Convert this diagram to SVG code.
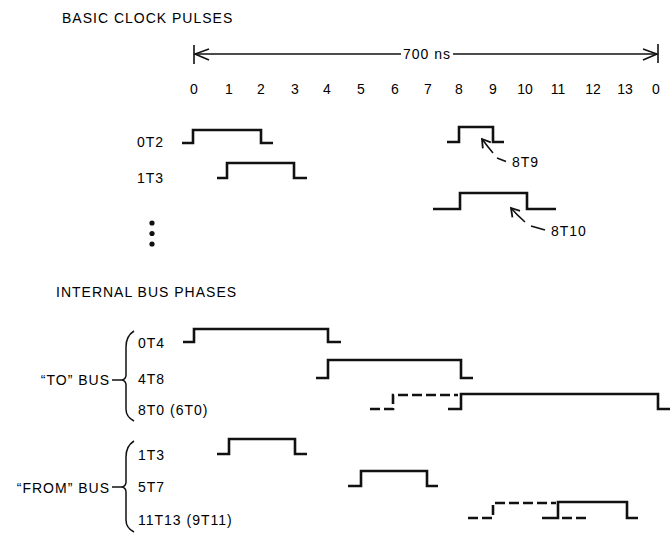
<svg xmlns="http://www.w3.org/2000/svg" width="671" height="534" viewBox="0 0 671 534">
<defs>
<style>
text{font-family:"Liberation Sans",Arial,sans-serif;font-size:14px;letter-spacing:1px;fill:#000}
.tk{text-anchor:middle;letter-spacing:0}
.w{fill:none;stroke:#111;stroke-width:2.6;stroke-linejoin:miter}
.d{fill:none;stroke:#111;stroke-width:2.6;stroke-dasharray:10 4}
.thin{fill:none;stroke:#111;stroke-width:1.6}
.br{fill:none;stroke:#111;stroke-width:1.5}
</style>
<marker id="open" markerWidth="12" markerHeight="12" refX="10" refY="6" orient="auto" markerUnits="userSpaceOnUse">
<path d="M2,1 L10,6 L2,11" fill="none" stroke="#111" stroke-width="1.8"/>
</marker>
</defs>
<rect width="671" height="534" fill="#fff"/>

<g id="title-clock"><text x="62" y="23">BASIC CLOCK PULSES</text></g>

<g id="dimension">
<line class="thin" x1="194" y1="45" x2="194" y2="64"/>
<line class="thin" x1="658" y1="44" x2="658" y2="63"/>
<line class="thin" x1="195" y1="54" x2="401" y2="54"/>
<line class="thin" x1="453" y1="54" x2="657" y2="54"/>
<path class="thin" d="M209,49 L195,54 L209,60"/>
<path class="thin" d="M643,49 L657,54 L643,60"/>
<text x="427" y="59" style="text-anchor:middle">700 ns</text>
</g>

<g id="ticks">
<text class="tk" x="194" y="94">0</text>
<text class="tk" x="229" y="94">1</text>
<text class="tk" x="261" y="94">2</text>
<text class="tk" x="295" y="94">3</text>
<text class="tk" x="327" y="94">4</text>
<text class="tk" x="361" y="94">5</text>
<text class="tk" x="395" y="94">6</text>
<text class="tk" x="428" y="94">7</text>
<text class="tk" x="459" y="94">8</text>
<text class="tk" x="493" y="94">9</text>
<text class="tk" x="525" y="94">10</text>
<text class="tk" x="558" y="94">11</text>
<text class="tk" x="593" y="94">12</text>
<text class="tk" x="625" y="94">13</text>
<text class="tk" x="656" y="94">0</text>
</g>

<g id="clk-0T2">
<text x="137" y="147">0T2</text>
<path class="w" d="M182,143 H193 V130 H261 V143 H273"/>
</g>
<g id="clk-1T3">
<text x="137" y="183">1T3</text>
<path class="w" d="M217,178 H227 V163 H294 V178 H307"/>
</g>
<g id="ellipsis">
<circle cx="152" cy="223" r="2.6" fill="#111"/>
<circle cx="152" cy="233.5" r="2.6" fill="#111"/>
<circle cx="152" cy="244" r="2.6" fill="#111"/>
</g>
<g id="clk-8T9">
<path class="w" d="M447,142 H459 V127 H493 V142 H504"/>
<text x="512" y="167">8T9</text>
</g>
<g id="clk-8T10">
<path class="w" d="M433,209 H460 V193 H527 V209 H556"/>
<text x="551" y="236">8T10</text>
</g>

<g id="title-bus"><text x="56" y="297">INTERNAL BUS PHASES</text></g>

<g id="to-bus">
<text x="110" y="385" style="text-anchor:end">“TO” BUS</text>
<path class="br" d="M112,380 H122"/>
<path class="br" d="M134,331 Q126,336 126,347 V375 Q126,379 122,380 Q126,381 126,385 V409 Q126,417 134,421"/>
</g>
<g id="bus-0T4">
<text x="138" y="348">0T4</text>
<path class="w" d="M183,342 H194 V329 H328 V342 H341"/>
</g>
<g id="bus-4T8">
<text x="138" y="384">4T8</text>
<path class="w" d="M316,378 H328 V360 H461 V378 H473"/>
</g>
<g id="bus-8T0">
<text x="138" y="415">8T0 (6T0)</text>
<path class="d" d="M370,409 H393 V395 H458"/>
<path class="w" d="M448,409 H461 V394 H658 V409 H670"/>
</g>

<g id="from-bus">
<text x="110" y="493" style="text-anchor:end">“FROM” BUS</text>
<path class="br" d="M112,487 H122"/>
<path class="br" d="M134,441 Q126,446 126,457 V482 Q126,486 122,487 Q126,488 126,492 V520 Q126,528 134,532"/>
</g>
<g id="bus-1T3">
<text x="138" y="460">1T3</text>
<path class="w" d="M217,454 H229 V439 H295 V454 H307"/>
</g>
<g id="bus-5T7">
<text x="138" y="492">5T7</text>
<path class="w" d="M348,486 H361 V471 H427 V486 H438"/>
</g>
<g id="bus-11T13">
<text x="138" y="525">11T13 (9T11)</text>
<path class="d" d="M468,518 H493 V503 H556"/>
<path class="d" d="M562,518 H586"/>
<path class="w" d="M542,518 H558 V502 H627 V518 H638"/>
</g>

<g id="connectors">
<path class="thin" d="M493,153 Q488,147 482,139" marker-end="url(#open)"/>
<path class="thin" d="M497,158 L506,161.5"/>
<path class="thin" d="M525,222 Q517,215 511,208" marker-end="url(#open)"/>
<path class="thin" d="M531,226 L545,230"/>
</g>
</svg>
